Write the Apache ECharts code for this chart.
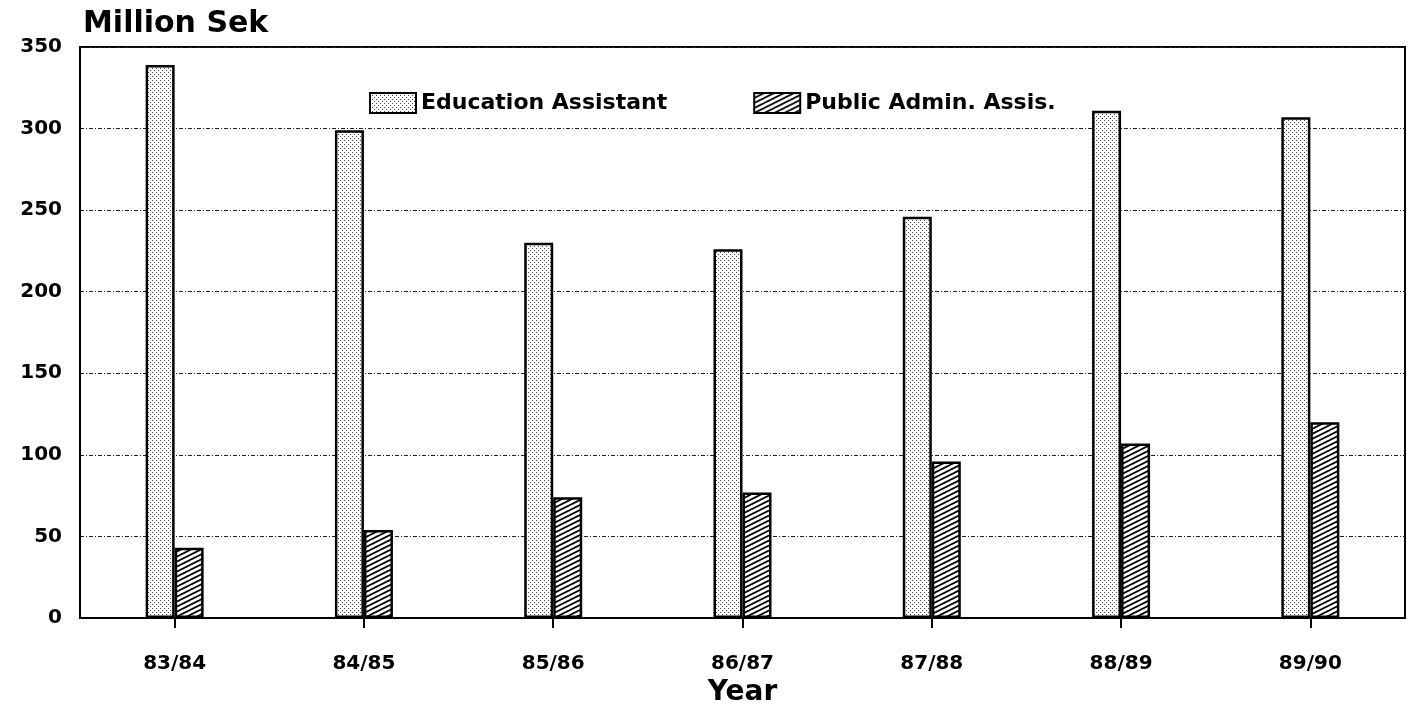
<!DOCTYPE html>
<html>
<head>
<meta charset="utf-8">
<script src="https://cdn.jsdelivr.net/npm/echarts@6/dist/echarts.min.js"></script>
<style>html,body{margin:0;padding:0;background:#fff}#c{width:1412px;height:708px}</style>
</head>
<body>
<div id="c"></div>
<script>
const categories = ['83/84', '84/85', '85/86', '86/87', '87/88', '88/89', '89/90'];
const educationAssistant = [339, 299, 230, 226, 246, 311, 307];
const publicAdminAssis = [43, 54, 74, 77, 96, 107, 120];
const yTicks = { min: 0, max: 350, interval: 50 };

function dotPattern() {
  const c = document.createElement('canvas');
  c.width = 4; c.height = 4;
  const g = c.getContext('2d');
  g.fillStyle = '#ffffff'; g.fillRect(0, 0, 4, 4);
  g.fillStyle = '#444444';
  g.fillRect(0, 0, 1, 1);
  g.fillRect(2, 2, 1, 1);
  return c;
}
function stripePattern() {
  const w = 10, h = 5;
  const c = document.createElement('canvas');
  c.width = w; c.height = h;
  const g = c.getContext('2d');
  g.fillStyle = '#ffffff'; g.fillRect(0, 0, w, h);
  g.strokeStyle = '#000000'; g.lineWidth = 1.8;
  g.beginPath();
  g.moveTo(-w - 1, h + 0.5); g.lineTo(1, -0.5);
  g.moveTo(-1, h + 0.5); g.lineTo(w + 1, -0.5);
  g.moveTo(w - 1, h + 0.5); g.lineTo(2 * w + 1, -0.5);
  g.stroke();
  return c;
}

const font = 'DejaVu Sans';
const chart = echarts.init(document.getElementById('c'));
chart.setOption({
  animation: false,
  backgroundColor: '#ffffff',
  title: {
    text: 'Million Sek',
    left: 78, top: 4,
    textStyle: { fontFamily: font, fontWeight: 'bold', fontSize: 30, color: '#000' }
  },
  legend: {
    top: 87, left: 364,
    icon: 'rect',
    itemWidth: 46, itemHeight: 20, itemGap: 86,
    textStyle: { fontFamily: font, fontWeight: 'bold', fontSize: 22, color: '#000' },
    data: ['Education Assistant', 'Public Admin. Assis.']
  },
  grid: {
    left: 80, right: 7, top: 47, bottom: 90,
    outerBoundsMode: 'none',
    containLabel: false,
    show: true, borderColor: '#000', borderWidth: 2
  },
  xAxis: {
    type: 'category',
    data: categories,
    name: 'Year',
    nameLocation: 'middle',
    nameGap: 54,
    nameTextStyle: { fontFamily: font, fontWeight: 'bold', fontSize: 28, color: '#000' },
    axisLine: { show: true, lineStyle: { color: '#000', width: 2 } },
    axisTick: { show: true, alignWithLabel: true, length: 10, lineStyle: { color: '#000', width: 2 } },
    axisLabel: { margin: 36, fontFamily: font, fontWeight: 'bold', fontSize: 20, color: '#000' },
    splitLine: { show: false }
  },
  yAxis: {
    type: 'value',
    min: yTicks.min, max: yTicks.max, interval: yTicks.interval,
    axisLine: { show: true, lineStyle: { color: '#000', width: 2 } },
    axisTick: { show: false },
    axisLabel: { margin: 18, fontFamily: font, fontWeight: 'bold', fontSize: 20, color: '#000' },
    splitLine: { show: true, lineStyle: { color: '#222', width: 1, type: [4, 2, 1, 2] } }
  },
  series: [
    {
      name: 'Education Assistant',
      type: 'bar',
      data: educationAssistant,
      barWidth: 29,
      barGap: '0%',
      itemStyle: { color: { image: dotPattern(), repeat: 'repeat' }, borderColor: '#000', borderWidth: 2.5 }
    },
    {
      name: 'Public Admin. Assis.',
      type: 'bar',
      data: publicAdminAssis,
      barWidth: 29,
      barGap: '0%',
      itemStyle: { color: { image: stripePattern(), repeat: 'repeat' }, borderColor: '#000', borderWidth: 2.5 }
    }
  ]
});
</script>
</body>
</html>
